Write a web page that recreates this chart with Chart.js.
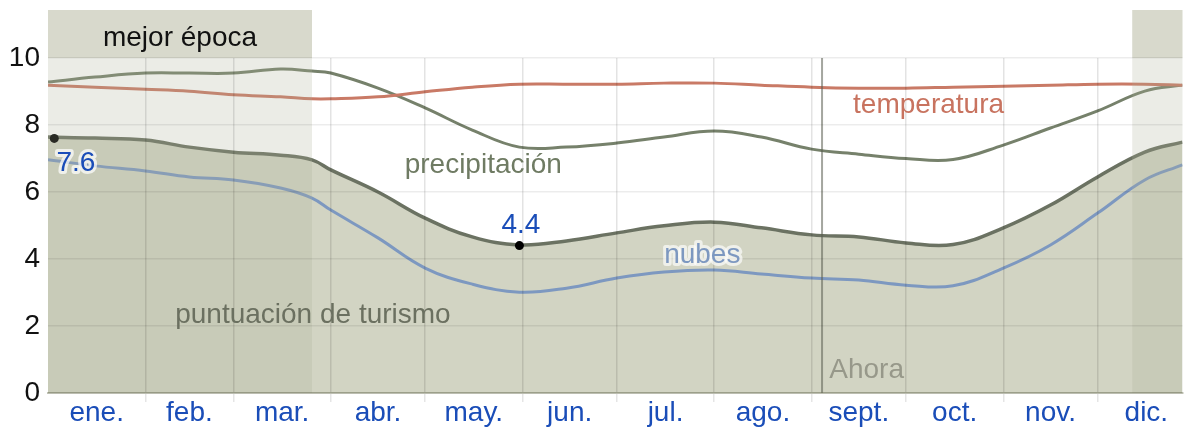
<!DOCTYPE html>
<html lang="es">
<head>
<meta charset="utf-8">
<title>Puntuación de turismo</title>
<script src="https://cdn.jsdelivr.net/npm/chart.js@4.4.1/dist/chart.umd.min.js"></script>
<style>
  html, body { margin: 0; padding: 0; background: #fff; }
  #wrap { width: 1187px; height: 427px; position: relative; }
</style>
</head>
<body>
<div id="wrap"><canvas id="chart" width="1187" height="427"></canvas></div>
<script>
// días del año (0 = 1 de enero)
const days = [0, 15, 31, 45, 59, 74, 84, 90, 105, 120, 135, 150, 165, 181, 196, 212, 227, 243, 258, 273, 288, 304, 319, 334, 349, 361];
const tourismScore = [7.64, 7.61, 7.55, 7.34, 7.19, 7.10, 6.96, 6.66, 6.00, 5.22, 4.66, 4.42, 4.54, 4.78, 4.99, 5.10, 4.93, 4.72, 4.66, 4.48, 4.43, 4.93, 5.61, 6.45, 7.19, 7.49];
const cloudScore = [6.96, 6.78, 6.63, 6.45, 6.36, 6.12, 5.82, 5.46, 4.63, 3.73, 3.25, 3.01, 3.13, 3.43, 3.61, 3.67, 3.55, 3.43, 3.37, 3.22, 3.20, 3.73, 4.42, 5.37, 6.36, 6.81];
const precipScore = [9.28, 9.43, 9.55, 9.55, 9.55, 9.67, 9.61, 9.55, 9.10, 8.51, 7.85, 7.34, 7.34, 7.46, 7.64, 7.82, 7.64, 7.28, 7.13, 7.00, 6.97, 7.40, 7.91, 8.42, 9.01, 9.19];
const tempScore = [9.19, 9.13, 9.07, 9.01, 8.90, 8.84, 8.78, 8.78, 8.84, 8.99, 9.13, 9.22, 9.22, 9.22, 9.25, 9.25, 9.19, 9.13, 9.10, 9.10, 9.13, 9.16, 9.19, 9.22, 9.22, 9.19];

const monthNames = ['ene.', 'feb.', 'mar.', 'abr.', 'may.', 'jun.', 'jul.', 'ago.', 'sept.', 'oct.', 'nov.', 'dic.'];
const monthStarts = [0, 31, 59, 90, 120, 151, 181, 212, 243, 273, 304, 334];
const monthMids = [15.5, 45, 74.5, 105, 135.5, 166, 196.5, 227.5, 258, 288.5, 319, 349.5];
const yTicks = [0, 2, 4, 6, 8, 10];

// máximo y mínimo marcados
const markDays = [2, 150];
const markValues = [7.6, 4.4];

// mejor época y "ahora"
const bestRanges = [[0, 84], [345, 361]];
const nowDay = 246.3;

const FONT = "'Liberation Sans', Arial, sans-serif";

function toXY(xs, ys) {
    return xs.map((d, i) => ({ x: d, y: ys[i] }));
}

// Banda de "mejor época"
const bandPlugin = {
    id: 'bestBand',
    beforeDraw(chart) {
        const { ctx, chartArea, scales } = chart;
        ctx.save();
        ctx.fillStyle = '#d8d9cc';
        bestRanges.forEach(r => {
            const x0 = scales.x.getPixelForValue(r[0]);
            const x1 = scales.x.getPixelForValue(r[1]);
            ctx.fillRect(x0, 10, x1 - x0, chartArea.top - 10);
        });
        ctx.restore();
    },
    afterDatasetsDraw(chart) {
        const { ctx, chartArea, scales } = chart;
        ctx.save();
        ctx.fillStyle = 'rgba(173, 175, 150, 0.24)';
        bestRanges.forEach(r => {
            const x0 = scales.x.getPixelForValue(r[0]);
            const x1 = scales.x.getPixelForValue(r[1]);
            ctx.fillRect(x0, chartArea.top, x1 - x0, chartArea.bottom - chartArea.top);
        });
        // línea "Ahora"
        const xn = scales.x.getPixelForValue(nowDay);
        ctx.strokeStyle = 'rgba(90, 92, 80, 0.55)';
        ctx.lineWidth = 2;
        ctx.beginPath();
        ctx.moveTo(xn, chartArea.top);
        ctx.lineTo(xn, chartArea.bottom);
        ctx.stroke();
        ctx.restore();
    }
};

// Textos de las series
const labelPlugin = {
    id: 'seriesLabels',
    afterDraw(chart) {
        const { ctx, chartArea, scales } = chart;
        const x = v => scales.x.getPixelForValue(v);
        const y = v => scales.y.getPixelForValue(v);

        function text(str, px, py, color, halo) {
            ctx.font = '28px ' + FONT;
            ctx.textAlign = 'center';
            ctx.textBaseline = 'middle';
            if (halo) {
                ctx.lineJoin = 'round';
                ctx.lineWidth = 6;
                ctx.strokeStyle = halo;
                ctx.strokeText(str, px, py);
            }
            ctx.fillStyle = color;
            ctx.fillText(str, px, py);
        }

        ctx.save();
        const b0 = x(bestRanges[0][0]), b1 = x(bestRanges[0][1]);
        text('mejor época', (b0 + b1) / 2, chartArea.top - 20, '#111');
        text('temperatura', x(280.2), y(8.6), '#c8735f');
        text('precipitación', x(138.5), y(6.8), '#6f7b63');
        text('nubes', x(208.2), y(4.12), '#7d98c0', 'rgba(255,255,255,0.65)');
        text('puntuación de turismo', x(84.3), y(2.33), '#6b7060');
        text('Ahora', x(260.5), y(0.69), '#97988a');
        text('7.6', x(8.9), y(6.85), '#1a4db8', 'rgba(255,255,255,0.7)');
        text('4.4', x(150.5), y(5.0), '#1a4db8');
        ctx.restore();
    }
};

const ctx = document.getElementById('chart').getContext('2d');
new Chart(ctx, {
    type: 'line',
    data: {
        datasets: [
            {
                label: 'marcas',
                data: toXY(markDays, markValues),
                showLine: false,
                pointRadius: 4.5,
                pointBackgroundColor: '#000',
                pointBorderWidth: 0
            },
            {
                label: 'temperatura',
                data: toXY(days, tempScore),
                borderColor: '#c97a66',
                borderWidth: 3,
                pointRadius: 0,
                tension: 0.4,
                fill: false
            },
            {
                label: 'precipitación',
                data: toXY(days, precipScore),
                borderColor: '#76816b',
                borderWidth: 3,
                pointRadius: 0,
                tension: 0.4,
                fill: false
            },
            {
                label: 'nubes',
                data: toXY(days, cloudScore),
                borderColor: '#7d98c0',
                borderWidth: 3,
                pointRadius: 0,
                tension: 0.4,
                fill: false
            },
            {
                label: 'puntuación de turismo',
                data: toXY(days, tourismScore),
                borderColor: '#6b7262',
                borderWidth: 3.5,
                pointRadius: 0,
                tension: 0.4,
                fill: 'origin',
                backgroundColor: '#d2d4c3'
            }
        ]
    },
    options: {
        responsive: false,
        animation: false,
        devicePixelRatio: 1,
        layout: { padding: { top: 58, right: 0, bottom: 0, left: 0 } },
        plugins: {
            legend: { display: false },
            tooltip: { enabled: false },
            filler: { drawTime: 'beforeDatasetsDraw' }
        },
        scales: {
            x: {
                type: 'linear',
                min: 0,
                max: 361,
                afterBuildTicks: scale => {
                    scale.ticks = monthStarts.concat(monthMids).sort((a, b) => a - b).map(v => ({ value: v }));
                },
                afterFit: scale => {
                    scale.height = 34;
                    scale.paddingLeft = 0;
                    scale.paddingRight = 0;
                },
                grid: {
                    z: 1,
                    color: c => (monthStarts.includes(c.tick.value) && c.tick.value > 0) ? 'rgba(0,0,0,0.11)' : 'transparent',
                    tickColor: c => (monthStarts.includes(c.tick.value) && c.tick.value > 0) ? 'rgba(0,0,0,0.1)' : 'transparent',
                    tickLength: 9,
                    lineWidth: 1.5
                },
                border: { display: true, color: 'rgba(120, 124, 96, 0.45)', width: 2, z: 1 },
                ticks: {
                    autoSkip: false,
                    maxRotation: 0,
                    padding: -6,
                    color: '#1a4db8',
                    font: { size: 28, family: FONT },
                    callback: v => {
                        const i = monthMids.indexOf(v);
                        return i >= 0 ? monthNames[i] : '';
                    }
                }
            },
            y: {
                min: 0,
                max: 10,
                afterBuildTicks: scale => {
                    scale.ticks = yTicks.map(v => ({ value: v }));
                },
                afterFit: scale => {
                    scale.width = 48;
                    scale.paddingTop = 0;
                    scale.paddingBottom = 0;
                },
                grid: {
                    z: 1,
                    color: 'rgba(0,0,0,0.075)',
                    lineWidth: 1.5,
                    drawTicks: false
                },
                border: { display: false },
                ticks: {
                    padding: 8,
                    color: '#111',
                    font: { size: 28, family: FONT }
                }
            }
        }
    },
    plugins: [bandPlugin, labelPlugin]
});
</script>
</body>
</html>
